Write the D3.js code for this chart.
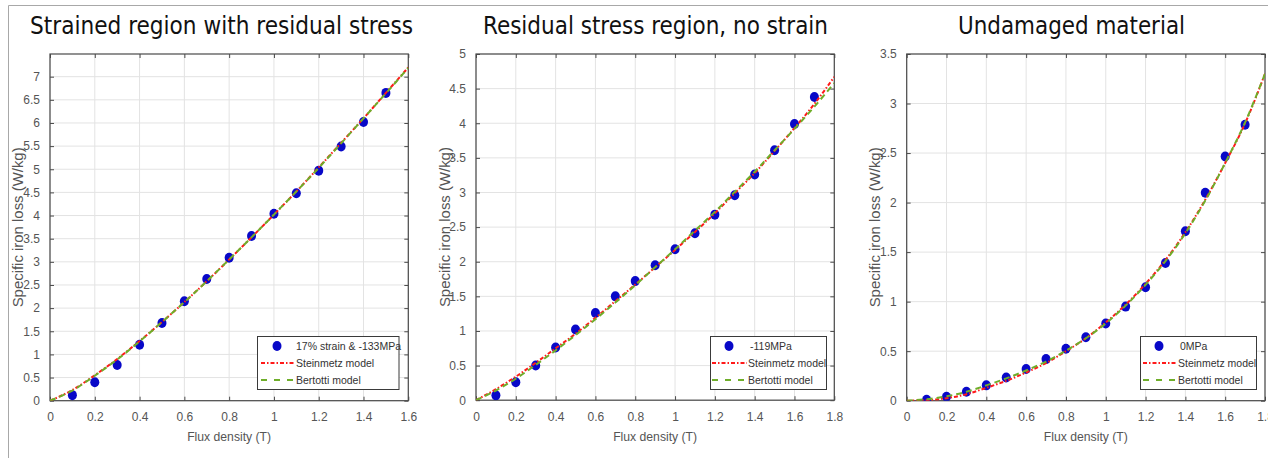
<!DOCTYPE html>
<html>
<head>
<meta charset="utf-8">
<script src="https://cdn.jsdelivr.net/npm/d3@7"></script>
<style>
  html, body { margin: 0; padding: 0; background: #fff; }
  svg { display: block; }
</style>
</head>
<body>
<svg id="chart" width="1268" height="458"></svg>
<script>
// ---------------- DATA ----------------
const titles = ["Strained region with residual stress", "Residual stress region, no strain", "Undamaged material"];
const seriesNames = ["17% strain & -133MPa", "-119MPa", "0MPa"];
const modelNames = ["Steinmetz model", "Bertotti model"];
const xLabel = "Flux density (T)";
const yLabel = "Specific iron loss (W/kg)";

// measured points (B in T, loss in W/kg)
const measB1 = [0.1,0.2,0.3,0.4,0.5,0.6,0.7,0.8,0.9,1.0,1.1,1.2,1.3,1.4,1.5];
const measP1 = [0.12,0.40,0.77,1.21,1.68,2.15,2.63,3.09,3.56,4.04,4.48,4.97,5.49,6.02,6.65];
const measB2 = [0.1,0.2,0.3,0.4,0.5,0.6,0.7,0.8,0.9,1.0,1.1,1.2,1.3,1.4,1.5,1.6,1.7];
const measP2 = [0.07,0.26,0.50,0.76,1.02,1.26,1.50,1.72,1.95,2.18,2.41,2.68,2.96,3.26,3.61,3.99,4.38];
const measB3 = [0.1,0.2,0.3,0.4,0.5,0.6,0.7,0.8,0.9,1.0,1.1,1.2,1.3,1.4,1.5,1.6,1.7];
const measP3 = [0.01,0.04,0.09,0.155,0.235,0.32,0.42,0.525,0.64,0.78,0.95,1.145,1.39,1.71,2.10,2.465,2.785];

// model curves
const curveB1 = [0,0.1,0.2,0.3,0.4,0.5,0.6,0.7,0.8,0.9,1.0,1.1,1.2,1.3,1.4,1.5,1.6];
const steinP1 = [0,0.23,0.55,0.90,1.29,1.70,2.13,2.58,3.05,3.53,4.02,4.52,5.04,5.57,6.10,6.65,7.20];
const bertP1  = [0,0.22,0.54,0.89,1.28,1.70,2.13,2.58,3.05,3.53,4.02,4.52,5.03,5.56,6.10,6.64,7.19];
const curveB2 = [0,0.1,0.2,0.3,0.4,0.5,0.6,0.7,0.8,0.9,1.0,1.1,1.2,1.3,1.4,1.5,1.6,1.7,1.8];
const steinP2 = [0,0.16,0.34,0.54,0.75,0.96,1.19,1.43,1.67,1.92,2.17,2.43,2.70,2.99,3.28,3.60,3.93,4.28,4.67];
const bertP2  = [0,0.14,0.31,0.51,0.72,0.94,1.17,1.41,1.66,1.92,2.18,2.45,2.72,3.01,3.30,3.61,3.92,4.24,4.58];
const curveB3 = [0,0.1,0.2,0.3,0.4,0.5,0.6,0.7,0.8,0.9,1.0,1.1,1.2,1.3,1.4,1.5,1.6,1.7,1.8];
const steinP3 = [0,0.005,0.025,0.065,0.13,0.20,0.285,0.38,0.50,0.63,0.79,0.97,1.18,1.42,1.70,2.03,2.40,2.80,3.30];
const bertP3  = [0,0.015,0.045,0.09,0.155,0.225,0.305,0.395,0.505,0.63,0.78,0.96,1.17,1.41,1.69,2.02,2.40,2.81,3.30];

const xMax = [1.6, 1.8, 1.8];
const yMax = [7.49, 5, 3.5];
const yTicks1 = [0,0.5,1,1.5,2,2.5,3,3.5,4,4.5,5,5.5,6,6.5,7];
const yTicks2 = [0,0.5,1,1.5,2,2.5,3,3.5,4,4.5,5];
const yTicks3 = [0,0.5,1,1.5,2,2.5,3,3.5];
const xTicks1 = [0,0.2,0.4,0.6,0.8,1,1.2,1.4,1.6];
const xTicks23 = [0,0.2,0.4,0.6,0.8,1,1.2,1.4,1.6,1.8];

// ---------------- LAYOUT ----------------
const layout = [
  {left:50,  right:408.3, top:54, bottom:400.7, ylabX:18,  titleX:30,  titleW:383, leg:{x:257.5, w:141.5, mx:277, lx0:261, lx1:295, tx:296}},
  {left:476, right:834.3, top:54, bottom:400.2, ylabX:445, titleX:483, titleW:345, leg:{x:710.5, w:116,   mx:729, lx0:712, lx1:747, tx:748}},
  {left:906.7, right:1265, top:54, bottom:400.7, ylabX:875, titleX:958, titleW:227, leg:{x:1140.5, w:116, mx:1159, lx0:1143, lx1:1177, tx:1178}}
];

const panels = [
  {meas:[measB1,measP1], stein:[curveB1,steinP1], bert:[curveB1,bertP1], yt:yTicks1, xt:xTicks1},
  {meas:[measB2,measP2], stein:[curveB2,steinP2], bert:[curveB2,bertP2], yt:yTicks2, xt:xTicks23},
  {meas:[measB3,measP3], stein:[curveB3,steinP3], bert:[curveB3,bertP3], yt:yTicks3, xt:xTicks23}
];

const C = {
  blue: "#0808c8", red: "#ff1a1a", green: "#6fae2a",
  grid: "#e3e3e3", axis: "#4a4a4a", tick: "#555555", label: "#555555"
};
const tickFont = "Liberation Sans, Arial, sans-serif";

const svg = d3.select("#chart");

// outer frame
svg.append("line").attr("x1", 8.5).attr("x2", 1268).attr("y1", 5.5).attr("y2", 5.5)
  .attr("stroke", "#a8a8a8").attr("stroke-width", 1);
svg.append("line").attr("x1", 8.5).attr("x2", 8.5).attr("y1", 5.5).attr("y2", 458)
  .attr("stroke", "#a8a8a8").attr("stroke-width", 1);

const fmt = d => String(+d.toFixed(1));

panels.forEach((p, i) => {
  const L = layout[i];
  const x = d3.scaleLinear().domain([0, xMax[i]]).range([L.left, L.right]);
  const y = d3.scaleLinear().domain([0, yMax[i]]).range([L.bottom, L.top]);
  const g = svg.append("g");

  // title
  g.append("text").attr("x", L.titleX).attr("y", 34)
    .attr("textLength", L.titleW).attr("lengthAdjust", "spacingAndGlyphs")
    .style("font-family", "'Liberation Sans Narrow', 'DejaVu Sans Condensed', 'Liberation Sans', sans-serif")
    .style("font-size", "25px").attr("fill", "#111").text(titles[i]);

  // background
  g.append("rect").attr("x", L.left).attr("y", L.top)
    .attr("width", L.right - L.left).attr("height", L.bottom - L.top).attr("fill", "#fff");

  // grid
  g.append("g").selectAll("line").data(p.xt).join("line")
    .attr("x1", d => x(d)).attr("x2", d => x(d)).attr("y1", L.top).attr("y2", L.bottom)
    .attr("stroke", C.grid).attr("stroke-width", 1);
  g.append("g").selectAll("line").data(p.yt).join("line")
    .attr("x1", L.left).attr("x2", L.right).attr("y1", d => y(d)).attr("y2", d => y(d))
    .attr("stroke", C.grid).attr("stroke-width", 1);

  // axes via d3 axis generators (inward ticks)
  const xAx = d3.axisBottom(x).tickValues(p.xt).tickFormat(fmt).tickSizeInner(-4).tickSizeOuter(0).tickPadding(12);
  const yAx = d3.axisLeft(y).tickValues(p.yt).tickFormat(fmt).tickSizeInner(-4).tickSizeOuter(0).tickPadding(10);
  const xTop = d3.axisTop(x).tickValues(p.xt).tickFormat("").tickSizeInner(-4).tickSizeOuter(0);
  const yRight = d3.axisRight(y).tickValues(p.yt).tickFormat("").tickSizeInner(-4).tickSizeOuter(0);

  const gx = g.append("g").attr("transform", `translate(0,${L.bottom})`).call(xAx);
  const gy = g.append("g").attr("transform", `translate(${L.left},0)`).call(yAx);
  const gxt = g.append("g").attr("transform", `translate(0,${L.top})`).call(xTop);
  const gyr = g.append("g").attr("transform", `translate(${L.right},0)`).call(yRight);
  [gx, gy, gxt, gyr].forEach(a => {
    a.select(".domain").remove();
    a.selectAll(".tick line").attr("stroke", C.axis);
    a.selectAll(".tick text").attr("fill", C.tick)
      .style("font-family", tickFont).style("font-size", "12px");
  });

  // box
  g.append("rect").attr("x", L.left).attr("y", L.top)
    .attr("width", L.right - L.left).attr("height", L.bottom - L.top)
    .attr("fill", "none").attr("stroke", C.axis).attr("stroke-width", 1.2);

  // axis labels
  g.append("text").attr("x", (L.left + L.right) / 2).attr("y", 441)
    .attr("text-anchor", "middle").attr("fill", C.label)
    .attr("textLength", 84).attr("lengthAdjust", "spacingAndGlyphs")
    .style("font-family", tickFont).style("font-size", "13.5px").text(xLabel);
  g.append("text")
    .attr("transform", `translate(${L.ylabX},${(L.top + L.bottom) / 2}) rotate(-90)`)
    .attr("text-anchor", "middle").attr("dominant-baseline", "central").attr("fill", C.label)
    .attr("textLength", 160).attr("lengthAdjust", "spacingAndGlyphs")
    .style("font-family", tickFont).style("font-size", "14px").text(yLabel);

  // clip
  const clipId = "clip" + i;
  svg.append("clipPath").attr("id", clipId).append("rect")
    .attr("x", L.left).attr("y", L.top).attr("width", L.right - L.left).attr("height", L.bottom - L.top);

  const line = d3.line().x(d => x(d[0])).y(d => y(d[1])).curve(d3.curveMonotoneX);
  const stein = p.stein[0].map((b, k) => [b, p.stein[1][k]]);
  const bert = p.bert[0].map((b, k) => [b, p.bert[1][k]]);
  const meas = p.meas[0].map((b, k) => [b, p.meas[1][k]]);

  const plotG = g.append("g").attr("clip-path", `url(#${clipId})`);
  // markers
  plotG.append("g").selectAll("ellipse").data(meas).join("ellipse")
    .attr("cx", d => x(d[0])).attr("cy", d => y(d[1]))
    .attr("rx", 4.5).attr("ry", 5).attr("fill", C.blue);
  // Steinmetz (dash-dot red)
  plotG.append("path").datum(stein).attr("d", line)
    .attr("fill", "none").attr("stroke", C.red).attr("stroke-width", 2)
    .attr("stroke-dasharray", "4,2,1.5,2");
  // Bertotti (dashed green)
  plotG.append("path").datum(bert).attr("d", line)
    .attr("fill", "none").attr("stroke", C.green).attr("stroke-width", 2)
    .attr("stroke-dasharray", "6,4");

  // legend
  const lg = g.append("g");
  lg.append("rect").attr("x", L.leg.x).attr("y", 336.5).attr("width", L.leg.w).attr("height", 53)
    .attr("fill", "#fff").attr("stroke", "#3a3a3a").attr("stroke-width", 1);
  const rows = [346, 363, 380];
  lg.append("ellipse").attr("cx", L.leg.mx).attr("cy", rows[0]).attr("rx", 4.5).attr("ry", 5).attr("fill", C.blue);
  lg.append("line").attr("x1", L.leg.lx0).attr("x2", L.leg.lx1).attr("y1", rows[1]).attr("y2", rows[1])
    .attr("stroke", C.red).attr("stroke-width", 2).attr("stroke-dasharray", "4,2,1.5,2");
  lg.append("line").attr("x1", L.leg.lx0).attr("x2", L.leg.lx1).attr("y1", rows[2]).attr("y2", rows[2])
    .attr("stroke", C.green).attr("stroke-width", 2).attr("stroke-dasharray", "6,7");
  const labels = [seriesNames[i], modelNames[0], modelNames[1]];
  lg.selectAll("text.lab").data(labels).join("text").attr("class", "lab")
    .attr("x", (d, k) => k === 0 ? L.leg.tx + (i === 0 ? 0 : 2) : L.leg.tx)
    .attr("y", (d, k) => rows[k]).attr("dominant-baseline", "central")
    .attr("fill", "#333").style("font-family", tickFont).style("font-size", "10.5px")
    .text(d => d);
});
</script>
</body>
</html>
